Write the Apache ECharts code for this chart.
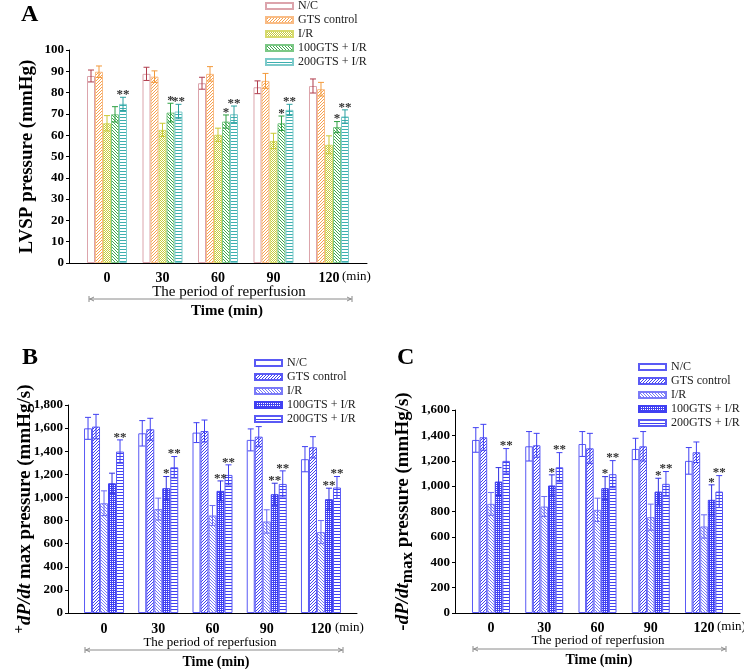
<!DOCTYPE html>
<html>
<head>
<meta charset="utf-8">
<script src="https://cdn.jsdelivr.net/npm/echarts@6/dist/echarts.min.js"></script>
<style>
  html, body { margin: 0; padding: 0; background: #fff; }
  #wrap { position: relative; width: 744px; height: 669px; }
  .panel { position: absolute; }
  #panel-a { left: 0; top: 0; width: 380px; height: 330px; }
  #panel-b { left: 0; top: 330px; width: 372px; height: 339px; }
  #panel-c { left: 372px; top: 330px; width: 372px; height: 339px; }
</style>
</head>
<body>
<div id="wrap">
  <div id="panel-a" class="panel"></div>
  <div id="panel-b" class="panel"></div>
  <div id="panel-c" class="panel"></div>
</div>
<script>
const FONT = 'Liberation Serif'
const categories = ['0', '30', '60', '90', '120']
const groups = ['N/C', 'GTS control', 'I/R', '100GTS + I/R', '200GTS + I/R']

// LVSP (mmHg), one row per group
const lvspMean = [
  [87.8, 88.8, 84.4, 82.5, 83.1],
  [89.8, 87.5, 88.8, 85.5, 81.6],
  [65.6, 62.5, 60.2, 57.3, 55.5],
  [69.8, 70.6, 66.4, 65.6, 63.8],
  [74.7, 71.1, 69.8, 71.9, 68.8]
]
const lvspSD = [
  [2.8, 3.1, 2.8, 3.0, 3.3],
  [2.7, 2.7, 3.4, 3.5, 3.2],
  [3.6, 3.1, 3.1, 3.6, 4.2],
  [3.6, 4.4, 3.1, 3.4, 2.6],
  [3.1, 3.4, 3.9, 2.6, 3.1]
]
const lvspStars = [[], [], [], ['', '*', '*', '*', '*'], ['**', '**', '**', '**', '**']]

// +dP/dt max (mmHg/s)
const riseMean = [
  [1598, 1555, 1561, 1498, 1331],
  [1613, 1590, 1575, 1526, 1434],
  [950, 899, 844, 792, 700],
  [1123, 1080, 1057, 1028, 985],
  [1397, 1261, 1195, 1117, 1086]
]
const riseSD = [
  [95, 110, 86, 95, 109],
  [106, 95, 95, 87, 92],
  [107, 95, 86, 101, 100],
  [87, 101, 86, 95, 95],
  [101, 93, 87, 113, 95]
]
const riseStars = [[], [], [], ['', '*', '**', '**', '**'], ['**', '**', '**', '**', '**']]

// -dP/dt max (mmHg/s)
const fallMean = [
  [1364, 1314, 1332, 1293, 1199],
  [1385, 1322, 1298, 1314, 1267],
  [860, 839, 813, 755, 682],
  [1036, 1005, 984, 957, 892],
  [1199, 1149, 1094, 1018, 957]
]
const fallSD = [
  [97, 116, 98, 84, 105],
  [102, 94, 118, 116, 81],
  [90, 79, 92, 103, 92],
  [110, 84, 91, 105, 118],
  [97, 115, 107, 97, 126]
]
const fallStars = [[], [], [], ['', '*', '*', '*', '*'], ['**', '**', '**', '**', '**']]

// small canvas tiles used as bar fills
function pattern(kind, color) {
  if (kind === 'none') return '#fff'
  const size = { diagUp: 3, diagDown: 3, fine: 2, horiz: 3, dense: 2 }[kind]
  const cv = document.createElement('canvas')
  cv.width = cv.height = size
  const g = cv.getContext('2d')
  g.fillStyle = '#fff'
  g.fillRect(0, 0, size, size)
  g.fillStyle = color
  const px = (x, y) => g.fillRect(x, y, 1, 1)
  if (kind === 'diagUp') for (let i = 0; i < size; i++) px(i, size - 1 - i)
  if (kind === 'diagDown') for (let i = 0; i < size; i++) px(i, i)
  if (kind === 'horiz') g.fillRect(0, 0, size, 1)
  if (kind === 'fine') { px(0, 0); px(1, 1) }
  if (kind === 'dense') { px(0, 0); px(1, 1); px(1, 0) }
  return { image: cv, repeat: 'repeat' }
}

function arrow(x1, x2, y) {
  const st = { stroke: '#8a8a8a', lineWidth: 1, fill: null }
  return {
    type: 'group', silent: true,
    children: [
      { type: 'line', shape: { x1, y1: y, x2, y2: y }, style: st },
      { type: 'line', shape: { x1, y1: y - 3, x2: x1, y2: y + 3 }, style: st },
      { type: 'line', shape: { x1: x2, y1: y - 3, x2, y2: y + 3 }, style: st },
      { type: 'polyline', shape: { points: [[x1 + 5, y - 2], [x1 + 1, y], [x1 + 5, y + 2]] }, style: st },
      { type: 'polyline', shape: { points: [[x2 - 5, y - 2], [x2 - 1, y], [x2 - 5, y + 2]] }, style: st }
    ]
  }
}

function text(x, y, str, size, weight, align) {
  return {
    type: 'text', x, y, silent: true,
    style: {
      text: str, fill: '#000', font: `${weight} ${size}px "${FONT}"`,
      textAlign: align || 'center', textVerticalAlign: 'middle'
    }
  }
}

function buildPanel(el, p) {
  const chart = echarts.init(el)
  // groups sit at x = 1..5 so that 0 stays outside the axis range
  const pos = categories.map((c, i) => i + 1)

  const bars = groups.map((name, k) => ({
    name, type: 'bar',
    barWidth: p.barWidth, barGap: '0%',
    data: p.mean[k].map((v, i) => [pos[i], v]),
    itemStyle: { color: p.fills[k], borderColor: p.borders[k], borderWidth: 1 },
    emphasis: { disabled: true }
  }))

  const errItems = []
  p.mean.forEach((row, k) => row.forEach((v, i) => errItems.push([pos[i], v, p.sd[k][i], k, i])))

  const errors = {
    type: 'custom', name: 'sd', silent: true, z: 5,
    data: errItems,
    renderItem: (params, api) => {
      const x0 = api.value(0), v = api.value(1), e = api.value(2), k = api.value(3), i = api.value(4)
      const hi = api.coord([x0, v + e])
      const lo = api.coord([x0, v - e])
      const x = hi[0] + (k - 2) * p.barWidth
      const st = { stroke: p.errColors[k], lineWidth: 1 }
      const kids = [
        { type: 'line', shape: { x1: x, y1: hi[1], x2: x, y2: lo[1] }, style: st },
        { type: 'line', shape: { x1: x - 3, y1: hi[1], x2: x + 3, y2: hi[1] }, style: st },
        { type: 'line', shape: { x1: x - 3, y1: lo[1], x2: x + 3, y2: lo[1] }, style: st }
      ]
      const star = p.stars[k][i]
      if (star) {
        kids.push({
          type: 'text', x, y: hi[1] + 4,
          style: {
            text: star, fill: '#333', font: `bold 13px "${FONT}"`,
            textAlign: 'center', textVerticalAlign: 'bottom'
          }
        })
      }
      return { type: 'group', children: kids }
    }
  }

  chart.setOption({
    animation: false,
    textStyle: { fontFamily: FONT },
    grid: { left: p.grid.left, top: p.grid.top, width: p.grid.width, height: p.grid.height },
    legend: {
      data: groups, orient: 'vertical', left: p.legend.left, top: p.legend.top,
      itemWidth: 27, itemHeight: 6, itemGap: p.legend.gap, icon: 'rect',
      selectedMode: false,
      textStyle: { fontFamily: FONT, fontSize: 12, color: '#222' }
    },
    xAxis: {
      type: 'value', min: 1 - p.pad, max: categories.length + p.pad,
      axisLine: { onZero: false, lineStyle: { color: '#000', width: 1 } },
      axisTick: { show: false },
      splitLine: { show: false },
      axisLabel: {
        customValues: pos,
        formatter: v => categories[Math.round(v) - 1],
        fontFamily: FONT, fontWeight: 'bold', fontSize: 14, color: '#000', margin: p.labelMargin
      }
    },
    yAxis: {
      type: 'value', min: 0, max: p.yMax, interval: p.yStep,
      name: p.yName, nameLocation: 'middle', nameRotate: 90, nameGap: p.nameGap,
      nameMoveOverlap: false,
      nameTextStyle: {
        fontFamily: FONT, fontWeight: 'bold', fontSize: 19, color: '#000',
        rich: {
          sup: { fontFamily: FONT, fontWeight: 'bold', fontSize: 15, verticalAlign: 'top', lineHeight: 26 },
          it: { fontFamily: FONT, fontWeight: 'bold', fontStyle: 'italic', fontSize: 19, lineHeight: 26 },
          sub: { fontFamily: FONT, fontWeight: 'bold', fontSize: 17, verticalAlign: 'bottom', lineHeight: 26 },
          n: { fontFamily: FONT, fontWeight: 'bold', fontSize: 19, lineHeight: 26 }
        }
      },
      axisLine: { show: true, onZero: false, lineStyle: { color: '#000', width: 1 } },
      axisTick: { show: true, length: 3, lineStyle: { color: '#000' } },
      splitLine: { show: false },
      axisLabel: {
        formatter: v => v.toLocaleString('en-US'),
        fontFamily: FONT, fontWeight: 'bold', fontSize: 13, color: '#000', margin: 5
      }
    },
    series: [...bars, errors],
    graphic: [
      text(p.letter.x, p.letter.y, p.letter.text, 24, 'bold', 'left'),
      text(p.min.x, p.min.y, '(min)', 13, 'normal', 'left'),
      text(p.period.x, p.period.y, 'The period of reperfusion', p.period.size, 'normal'),
      arrow(p.arrow.x1, p.arrow.x2, p.arrow.y),
      text(p.time.x, p.time.y, 'Time (min)', p.time.size, 'bold')
    ]
  })
  return chart
}

buildPanel(document.getElementById('panel-a'), {
  mean: lvspMean, sd: lvspSD, stars: lvspStars,
  yMax: 100, yStep: 10, yName: 'LVSP pressure (mmHg)', nameGap: 32,
  grid: { left: 69, top: 50, width: 298, height: 213 }, pad: 0.685, barWidth: 8,
  labelMargin: 8,
  fills: [pattern('none'), pattern('diagUp', '#f6a250'), pattern('fine', '#c8cc3c'), pattern('diagDown', '#3ea84e'), pattern('horiz', '#3eb0b0')],
  borders: ['#dca4ac', '#f9bc86', '#d6da6c', '#7cc886', '#7ccaca'],
  errColors: ['#b03c4c', '#f39a3c', '#c9c936', '#2ea043', '#2aa0a0'],
  legend: { left: 260, top: -5, gap: 2 },
  letter: { x: 21, y: 15, text: 'A' },
  min: { x: 342, y: 277 },
  period: { x: 229, y: 292, size: 15 },
  arrow: { x1: 89, x2: 352, y: 299 },
  time: { x: 227, y: 311, size: 15 }
})

const blue = '#4040f2'
const coolFills = [pattern('none'), pattern('diagUp', blue), pattern('diagDown', '#7a7af8'), pattern('dense', blue), pattern('horiz', blue)]
const coolBorders = ['#5a5af5', '#5a5af5', '#7a7af8', '#4040f2', '#5a5af5']
const coolErr = [blue, blue, '#6a6af5', '#3030e0', blue]

buildPanel(document.getElementById('panel-b'), {
  mean: riseMean, sd: riseSD, stars: riseStars,
  yMax: 1800, yStep: 200, yName: '{sup|+}{it|dP/dt}{n| max pressure (mmHg/s)}', nameGap: 30,
  grid: { left: 68, top: 75, width: 289, height: 208 }, pad: 0.664, barWidth: 8,
  labelMargin: 9,
  fills: coolFills, borders: coolBorders, errColors: coolErr,
  legend: { left: 249, top: 22, gap: 2 },
  letter: { x: 22, y: 28, text: 'B' },
  min: { x: 335, y: 298 },
  period: { x: 210, y: 313, size: 13 },
  arrow: { x1: 85, x2: 343, y: 320 },
  time: { x: 216, y: 332, size: 14 }
})

buildPanel(document.getElementById('panel-c'), {
  mean: fallMean, sd: fallSD, stars: fallStars,
  yMax: 1600, yStep: 200, yName: '{n|-}{it|dP/dt}{sub|max}{n| pressure (mmHg/s)}', nameGap: 39,
  grid: { left: 83, top: 80, width: 285, height: 203 }, pad: 0.676, barWidth: 7.6,
  labelMargin: 8,
  fills: coolFills, borders: coolBorders, errColors: coolErr,
  legend: { left: 261, top: 26, gap: 2 },
  letter: { x: 25, y: 28, text: 'C' },
  min: { x: 345, y: 297 },
  period: { x: 226, y: 311, size: 13 },
  arrow: { x1: 101, x2: 354, y: 319 },
  time: { x: 227, y: 330, size: 14 }
})
</script>
</body>
</html>
